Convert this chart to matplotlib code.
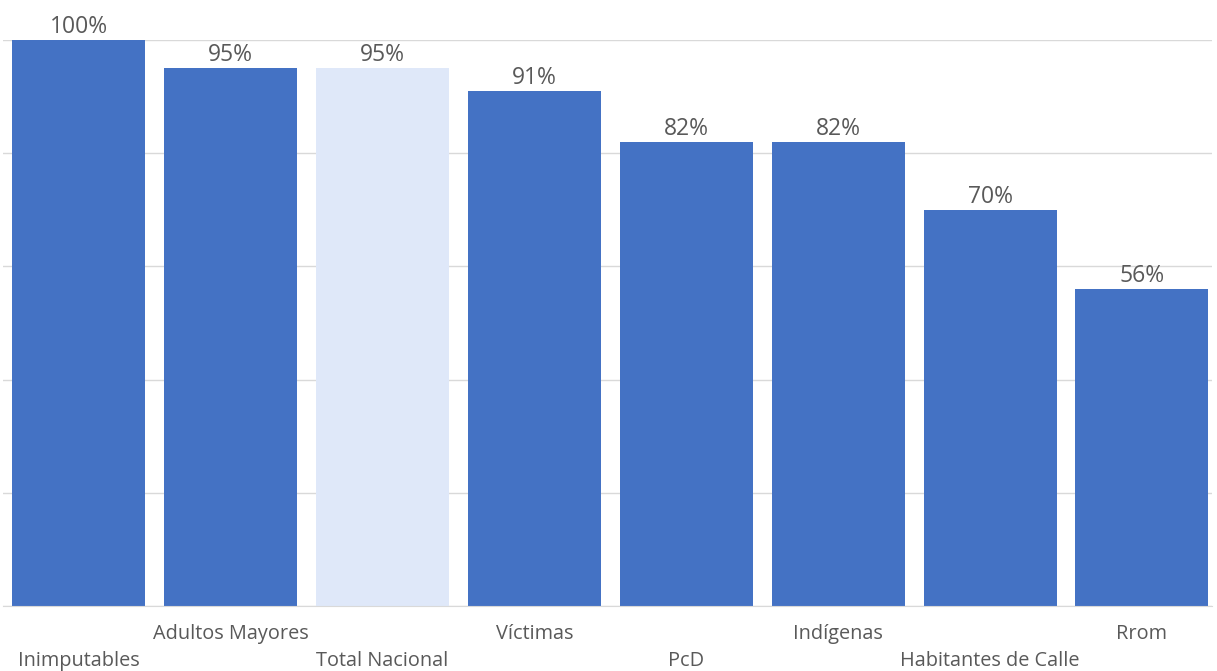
import numpy as np
import matplotlib
matplotlib.use("Agg")
import matplotlib.pyplot as plt

categorias = ["Inimputables", "Adultos Mayores", "Total Nacional", "Víctimas",
              "PcD", "Indígenas", "Habitantes de Calle", "Rrom"]
valores = [100, 95, 95, 91, 82, 82, 70, 56]
etiquetas = ["100%", "95%", "95%", "91%", "82%", "82%", "70%", "56%"]

azul = "#4472C4"
claro = "#DFE8F9"
gris = "#595959"

plt.rcParams['font.family'] = ['Open Sans', 'DejaVu Sans']

fig = plt.figure(figsize=(12.17, 6.71), dpi=100)
ax = fig.add_axes([3 / 1217, 65 / 671, 1209 / 1217, 566 / 671])

x = np.arange(len(categorias))
colores = [claro if c == "Total Nacional" else azul for c in categorias]
ax.bar(x, valores, width=0.875, color=colores, zorder=2)

for xi, v, t in zip(x, valores, etiquetas):
    ax.text(xi, v + 0.2, t, ha="center", va="bottom", fontsize=16.5, color=gris, clip_on=False)

# etiquetas en dos filas alternadas
for xi, c in zip(x, categorias):
    fila = 1 if xi % 2 == 0 else 0
    ax.annotate(c, (xi, 0), xytext=(0, -28 - fila * 27), textcoords="offset pixels",
                ha="center", va="center", fontsize=14.3, color=gris, annotation_clip=False)

ax.set_xlim(-0.497, 7.461)
ax.set_ylim(0, 100)
ax.set_yticks(np.arange(0, 101, 20))
ax.yaxis.grid(True, color="#D9D9D9", linewidth=1, zorder=0)
ax.set_xticks([])
ax.tick_params(left=False, labelleft=False)
for s in ["top", "right", "left"]:
    ax.spines[s].set_visible(False)
ax.spines["bottom"].set_color("#D9D9D9")

fig.savefig("out.png", dpi=100)
